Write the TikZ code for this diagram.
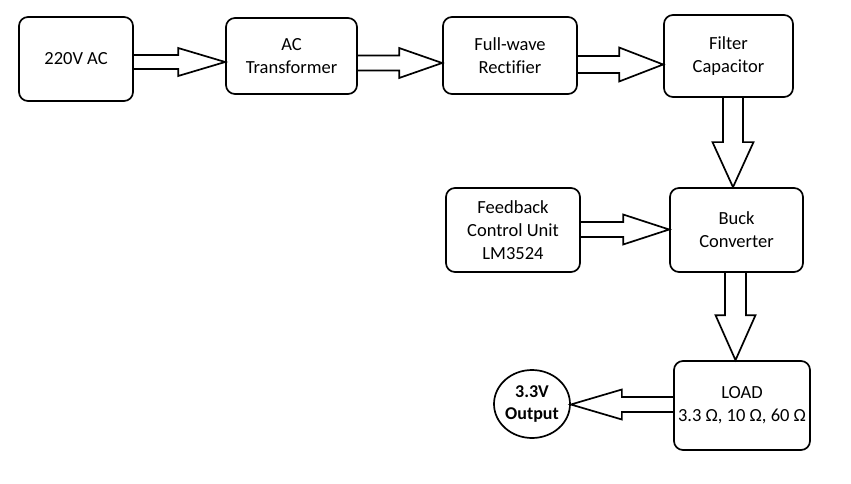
\documentclass[tikz,border=0pt]{standalone}
\usepackage{fontspec}
\setmainfont[Ligatures=CommonOff]{Carlito}
\usetikzlibrary{calc,shapes.geometric}
\tikzset{
  blk/.style={draw, line width=1.7pt, rounded corners=9pt, align=center, inner sep=0pt,
    font=\fontsize{18.5}{23}\selectfont},
  outnode/.style={draw, ellipse, line width=1.7pt, align=center, inner sep=0pt,
    font=\fontsize{18}{22}\selectfont\bfseries},
  arrowline/.style={draw, line width=1.7pt, line join=miter}
}
\newcommand\blockarrow[5]{%
  \coordinate (ba-base) at ($(#2)!#5!(#1)$);
  \draw[arrowline] ($(#1)!#3!90:(#2)$) -- ($(ba-base)!#3!90:(#2)$) -- ($(ba-base)!#4!90:(#2)$)
    -- (#2) -- ($(ba-base)!#4!-90:(#2)$) -- ($(ba-base)!#3!-90:(#2)$) -- ($(#1)!#3!-90:(#2)$);
}
\begin{document}
\begin{tikzpicture}[x=1pt,y=-1pt]
\useasboundingbox (0,0) rectangle (851,484);
\node[blk, minimum width=114pt, minimum height=84pt] (n1) at (76,59) {220V AC};
\node[blk, minimum width=131pt, minimum height=76pt] (n2) at (291.5,56) {AC\\Transformer};
\node[blk, minimum width=134pt, minimum height=77pt] (n3) at (510,55.5) {Full-wave\\Rectifier};
\node[blk, minimum width=129pt, minimum height=82pt] (n4) at (728.5,56) {Filter\\Capacitor};
\node[blk, minimum width=134pt, minimum height=84pt] (fb) at (513,230) {Feedback\\Control Unit\\LM3524};
\node[blk, minimum width=133pt, minimum height=84pt] (buck) at (736.5,230) {Buck\\Converter};
\node[blk, minimum width=136pt, minimum height=89pt] (load) at (742,405.5) {LOAD\\3.3 Ω, 10 Ω, 60 Ω};
\node[outnode, minimum width=76pt, minimum height=68pt] (out) at (532,404) {3.3V\\Output};

\coordinate (a1s) at (n1.east |- 0,62);  \coordinate (a1e) at (n2.west |- 0,62);
\blockarrow{a1s}{a1e}{7pt}{14pt}{47pt}
\coordinate (a2s) at (n2.east |- 0,63);  \coordinate (a2e) at (n3.west |- 0,63);
\blockarrow{a2s}{a2e}{7.5pt}{15pt}{43pt}
\coordinate (a3s) at (n3.east |- 0,64.5);  \coordinate (a3e) at (n4.west |- 0,64.5);
\blockarrow{a3s}{a3e}{8.5pt}{17pt}{44pt}
\coordinate (a4s) at (n4.south -| 733,0);  \coordinate (a4e) at (buck.north -| 733,0);
\blockarrow{a4s}{a4e}{10pt}{20.5pt}{45pt}
\coordinate (a5s) at (fb.east |- 0,229.5);  \coordinate (a5e) at (buck.west |- 0,229.5);
\blockarrow{a5s}{a5e}{7.5pt}{15pt}{46pt}
\coordinate (a6s) at (buck.south -| 735.5,0);  \coordinate (a6e) at (load.north -| 735.5,0);
\blockarrow{a6s}{a6e}{10.5pt}{20pt}{45pt}
\coordinate (a7s) at (load.west |- 0,404.5);  \coordinate (a7e) at (out.east |- 0,404.5);
\blockarrow{a7s}{a7e}{7.5pt}{15pt}{51pt}
\end{tikzpicture}
\end{document}
